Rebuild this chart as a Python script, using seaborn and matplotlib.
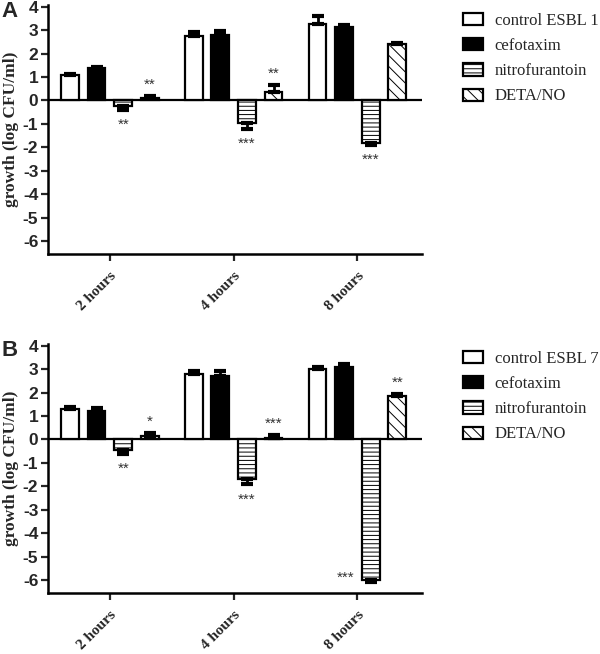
import matplotlib
matplotlib.use("Agg")
import matplotlib.pyplot as plt
import matplotlib.transforms as mtransforms
import pandas as pd
import seaborn as sns

# datos (log CFU/ml)
times = ["2 hours", "4 hours", "8 hours"]
drugs = ["cefotaxim", "nitrofurantoin", "DETA/NO"]

# panel A - ESBL 1
growth_a = [[1.10, 2.75, 3.25],    # control
            [1.40, 2.80, 3.15],    # cefotaxim
            [-0.25, -0.95, -1.80], # nitrofurantoin
            [0.10, 0.35, 2.40]]    # DETA/NO
sem_a = [[0.05, 0.15, 0.35],
         [0.03, 0.17, 0.05],
         [0.15, 0.25, 0.08],
         [0.10, 0.30, 0.07]]
stars_a = [(0, 2, "**"), (0, 3, "**"), (1, 2, "***"), (1, 3, "**"), (2, 2, "***")]

# panel B - ESBL 7
growth_b = [[1.30, 2.80, 3.00],
            [1.20, 2.70, 3.10],
            [-0.45, -1.70, -6.00],
            [0.15, 0.08, 1.85]]
sem_b = [[0.10, 0.12, 0.08],
         [0.15, 0.22, 0.10],
         [0.15, 0.22, 0.10],
         [0.12, 0.10, 0.10]]
stars_b = [(0, 2, "**"), (0, 3, "*"), (1, 2, "***"), (1, 3, "***"), (2, 2, "***"), (2, 3, "**")]

sans = "Liberation Sans"
serif = "Liberation Serif"


def tabla(growth, control_name):
    '''
    Pasa las listas a un DataFrame largo para seaborn
    '''
    names = [control_name] + drugs
    rows = []
    for i, name in enumerate(names):
        for j, t in enumerate(times):
            rows.append({"time": t, "treatment": name, "growth": growth[i][j]})
    return pd.DataFrame(rows), names


def panel(ax, growth, sem, stars, control_name, letter, legend_y):
    df, names = tabla(growth, control_name)
    sns.barplot(data=df, x="time", y="growth", hue="treatment", hue_order=names,
                palette=["white", "black", "white", "white"], width=0.86, gap=0.33,
                edgecolor="black", linewidth=1.6, errorbar=None, legend=False,
                saturation=1, ax=ax, zorder=3)
    bars = list(ax.containers)
    for p in bars[2].patches:
        p.set_hatch("----")
    for p in bars[3].patches:
        p.set_hatch("\\\\\\")

    # barras de error solo hacia fuera del cero
    for i, cont in enumerate(bars):
        for j, p in enumerate(cont.patches):
            x = p.get_x() + p.get_width() / 2
            y = growth[i][j]
            e = sem[i][j]
            yerr = [[0], [e]] if y >= 0 else [[e], [0]]
            ax.errorbar(x, y, yerr=yerr, fmt="none", ecolor="black",
                        elinewidth=2, capsize=4.5, capthick=3, zorder=4)

    # asteriscos
    for j, i, txt in stars:
        p = bars[i].patches[j]
        x = p.get_x() + p.get_width() / 2
        y = growth[i][j]
        e = sem[i][j]
        kw = dict(textcoords="offset points", fontsize=11, color="#333333", family=sans)
        if y >= 0:
            ax.annotate(txt, (x, y + e), xytext=(0, 3), ha="center", va="bottom", **kw)
        elif y - e < -5:
            ax.annotate(txt, (p.get_x(), y + 0.1), xytext=(-5, 0), ha="right", va="center", **kw)
        else:
            ax.annotate(txt, (x, y - e), xytext=(0, -6), ha="center", va="top", **kw)

    ax.axhline(0, color="black", lw=1.6, zorder=2)
    ax.set_ylim(-6.55, 4.08)
    ax.set_xlim(-0.5, 2.52)
    ax.set_yticks(range(-6, 5))
    ax.set_yticklabels([str(v) for v in range(-6, 5)], family=sans, fontweight="bold", fontsize=12.5)
    ax.set_xticks(range(3))
    ax.set_xticklabels(times, rotation=45, ha="right", rotation_mode="anchor",
                       family=serif, fontweight="bold", fontsize=11)
    shift = mtransforms.ScaledTranslation(4 / 72, 0, fig.dpi_scale_trans)
    for lab in ax.get_xticklabels():
        lab.set_transform(lab.get_transform() + shift)
    ax.set_xlabel("")
    ax.set_ylabel("growth (log CFU/ml)", family=serif, fontweight="bold", fontsize=12.5, labelpad=3)
    ax.tick_params(axis="both", width=1.6, length=5, direction="out", left=True, bottom=True)
    ax.tick_params(axis="y", pad=2)
    ax.tick_params(axis="x", pad=6)
    for s in ["top", "right"]:
        ax.spines[s].set_visible(False)
    for s in ["left", "bottom"]:
        ax.spines[s].set_linewidth(1.8)
        ax.spines[s].set_color("black")
    ax.set_facecolor("white")

    handles = [c.patches[0] for c in bars]
    fig.legend(handles, names, loc="upper left", bbox_to_anchor=(0.772, legend_y),
               frameon=False, prop={"family": serif, "size": 12},
               handlelength=1.2, handleheight=0.75, handletextpad=0.7,
               labelspacing=0.55, borderpad=0, borderaxespad=0)
    fig.text(0.003, ax.get_position().y1 + 0.006, letter, family=sans, fontweight="bold",
             fontsize=16, va="top", ha="left")


sns.set_style("white")
plt.rcParams["hatch.linewidth"] = 0.7
fig = plt.figure(figsize=(6, 6.54), dpi=100)
ax_a = fig.add_axes([0.08, 0.6116, 0.623, 0.381])
ax_b = fig.add_axes([0.08, 0.0933, 0.623, 0.381])

panel(ax_a, growth_a, sem_a, stars_a, "control ESBL 1", "A", 1 - 13 / 654)
panel(ax_b, growth_b, sem_b, stars_b, "control ESBL 7", "B", 1 - 351 / 654)

fig.savefig("out.png", dpi=100, facecolor="white")
